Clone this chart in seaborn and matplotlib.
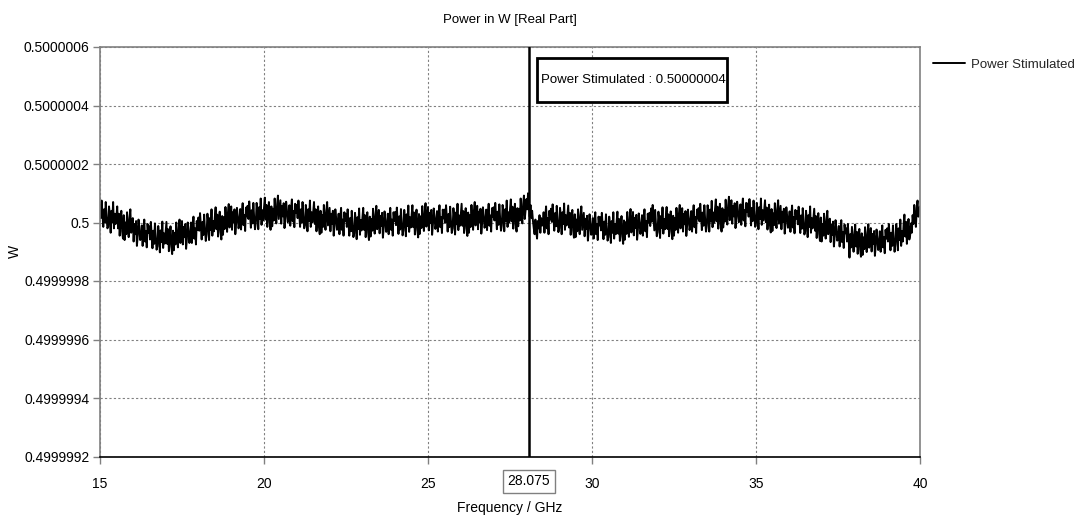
import numpy as np
import pandas as pd
import matplotlib
matplotlib.use("Agg")
import matplotlib.pyplot as plt
from matplotlib.patches import Rectangle
from matplotlib.ticker import FixedLocator, FixedFormatter
import seaborn as sns

# Frequency sweep (GHz), 1001 samples
freq_start = 15.0
freq_stop = 40.0

# Real part of stimulated power, read off the plot as deviation from 0.5 W in nW
# one row = 0.25 GHz (10 samples)
power_offset_nw = [
    60, 15, 75, 30, -15, 45, 0, 70, 20, -20,
    -15, 55, 25, -35, 40, 0, 70, -20, 30, -5,
    20, 55, -20, 30, -45, 5, 40, -30, -55, 25,
    -60, 0, -40, 35, -15, -50, 15, 45, -35, -5,
    15, -65, -5, -40, 5, -80, -45, 10, -20, -60,
    -55, -10, -80, -25, 10, -65, -30, -85, -5, -35,
    -13, -58, 2, -43, -88, -28, -73, -3, -53, -93,
    -82, -12, -42, -102, -27, -67, 3, -87, -37, -72,
    -33, 2, -73, -23, -98, -48, -13, -83, -108, -28,
    -95, -35, -75, 0, -50, -85, -20, 10, -70, -40,
    5, -75, -15, -50, -5, -90, -55, 0, -30, -70,
    -45, 0, -70, -15, 20, -55, -20, -75, 5, -25,
    17, -28, 32, -13, -58, 2, -43, 27, -23, -63,
    -40, 30, 0, -60, 15, -25, 45, -45, 5, -30,
    17, 52, -23, 27, -48, 2, 37, -33, -58, 22,
    -42, 18, -22, 53, 3, -32, 33, 63, -17, 13,
    55, -25, 35, 0, 45, -40, -5, 50, 20, -20,
    1, 46, -24, 31, 66, -9, 26, -29, 51, 21,
    57, 12, 72, 27, -18, 42, -3, 67, 17, -23,
    -3, 67, 37, -23, 52, 12, 82, -8, 42, 7,
    50, 85, 10, 60, -15, 35, 70, 0, -25, 55,
    -13, 47, 7, 82, 32, -3, 62, 92, 12, 42,
    76, -4, 56, 21, 66, -19, 16, 71, 41, 1,
    14, 59, -11, 44, 79, 4, 39, -16, 64, 34,
    60, 15, 75, 30, -15, 45, 0, 70, 20, -20,
    -10, 60, 30, -30, 45, 5, 75, -15, 35, 0,
    35, 70, -5, 45, -30, 20, 55, -15, -40, 40,
    -35, 25, -15, 60, 10, -25, 40, 70, -10, 20,
    50, -30, 30, -5, 40, -45, -10, 45, 15, -25,
    -15, 30, -40, 15, 50, -25, 10, -45, 35, 5,
    30, -15, 45, 0, -45, 15, -30, 40, -10, -50,
    -37, 33, 3, -57, 18, -22, 48, -42, 8, -27,
    15, 50, -25, 25, -50, 0, 35, -35, -60, 20,
    -48, 12, -28, 47, -3, -38, 27, 57, -23, 7,
    43, -37, 23, -12, 33, -52, -17, 38, 8, -32,
    -15, 30, -40, 15, 50, -25, 10, -45, 35, 5,
    36, -9, 51, 6, -39, 21, -24, 46, -4, -44,
    -27, 43, 13, -47, 28, -12, 58, -32, 18, -17,
    24, 59, -16, 34, -41, 9, 44, -26, -51, 29,
    -39, 21, -19, 56, 6, -29, 36, 66, -14, 16,
    53, -27, 33, -2, 43, -42, -7, 48, 18, -22,
    -6, 39, -31, 24, 59, -16, 19, -36, 44, 14,
    44, -1, 59, 14, -31, 29, -16, 54, 4, -36,
    -21, 49, 19, -41, 34, -6, 64, -26, 24, -11,
    29, 64, -11, 39, -36, 14, 49, -21, -46, 34,
    -35, 25, -15, 60, 10, -25, 40, 70, -10, 20,
    57, -23, 37, 2, 47, -38, -3, 52, 22, -18,
    -1, 44, -26, 29, 64, -11, 24, -31, 49, 19,
    52, 7, 67, 22, -23, 37, -8, 62, 12, -28,
    -10, 60, 30, -30, 45, 5, 75, -15, 35, 0,
    44, 79, 4, 54, -21, 29, 64, -6, -31, 49,
    -13, 47, 7, 82, 32, -3, 62, 92, 12, 42,
    80, 45, 100, 55, 20, 60, 15, 40, 5, -20,
    -40, 10, -30, -55, 5, -20, 25, -35, 15, -10,
    -10, 35, -35, 20, 55, -20, 15, -40, 40, 10,
    47, 2, 62, 17, -28, 32, -13, 57, 7, -33,
    -20, 50, 20, -40, 35, -5, 65, -25, 25, -10,
    23, 58, -17, 33, -42, 8, 43, -27, -52, 28,
    -50, 10, -30, 45, -5, -40, 25, 55, -25, 5,
    33, -47, 13, -22, 23, -62, -27, 28, -2, -42,
    -30, 15, -55, 0, 35, -40, -5, -60, 20, -10,
    18, -27, 33, -12, -57, 3, -42, 28, -22, -62,
    -50, 20, -10, -70, 5, -35, 35, -55, -5, -40,
    2, 37, -38, 12, -63, -13, 22, -48, -73, 7,
    -59, 1, -39, 36, -14, -49, 16, 46, -34, -4,
    36, -44, 16, -19, 26, -59, -24, 31, 1, -39,
    -20, 25, -45, 10, 45, -30, 5, -50, 30, 0,
    33, -12, 48, 3, 60, 18, -27, 43, -7, -47,
    -33, 37, 7, -53, 22, -18, 52, -38, 12, -23,
    18, 53, -22, 28, -47, 3, 38, -32, -57, 23,
    -45, 15, -25, 50, 0, -35, 30, 60, -20, 10,
    49, -31, 29, -6, 39, -46, -11, 44, 14, -26,
    -6, 39, -31, 24, 59, -16, 19, -36, 44, 14,
    49, 4, 64, 19, -26, 34, -11, 59, 9, -31,
    -11, 59, 29, -31, 44, 4, 74, -16, 34, -1,
    44, 79, 4, 54, -21, 29, 64, -6, -31, 49,
    -17, 43, 3, 78, 28, -7, 58, 88, 8, 38,
    76, -4, 56, 21, 66, -19, 16, 71, 41, 1,
    17, 62, -8, 47, 82, 7, 42, -13, 67, 37,
    65, 20, 80, 35, -10, 50, 5, 75, 25, -15,
    -3, 67, 37, -23, 52, 12, 82, -8, 42, 7,
    41, 76, 1, 51, -24, 26, 61, -9, -34, 46,
    -29, 31, -9, 66, 16, -19, 46, 76, -4, 26,
    57, -23, 37, 2, 47, -38, -3, 52, 22, -18,
    -7, 38, -32, 23, 58, -17, 18, -37, 43, 13,
    39, -6, 54, 9, -36, 24, -21, 49, -1, -41,
    -30, 40, 10, -50, 25, -15, 55, -35, 15, -20,
    12, 47, -28, 22, -53, -3, 32, -38, -63, 17,
    -65, -5, -45, 30, -20, -55, 10, 40, -40, -10,
    13, -67, -7, -42, 3, -82, -47, 8, -22, -62,
    -57, -12, -82, -27, 8, -67, -32, -87, -7, -37,
    -20, -65, -5, -50, -120, -40, -85, -15, -60, -100,
    -42, -7, -82, -32, -107, -57, -22, -92, -117, -37,
    -111, -51, -91, -16, -66, -101, -36, -6, -86, -56,
    -19, -99, -39, -74, -29, -114, -79, -24, -54, -94,
    -75, -30, -100, -45, -10, -85, -50, -105, -25, -55,
    -20, -65, -5, -50, -95, -35, -80, -10, -60, -100,
    -75, -5, -35, -95, -20, -60, 10, -80, -30, -65,
    -8, 27, -48, 2, -73, -23, 12, -58, -43, -3,
    -35, 25, -5, 60, 15, -15, 50, 75, 20, 45,
    55,
]

marker_freq = 28.075
marker_label = "28.075"
marker_text = "Power Stimulated : 0.50000004"
series_name = "Power Stimulated"

x_ticks = [15, 20, 25, 30, 35, 40]
y_ticks = [0.4999992, 0.4999994, 0.4999996, 0.4999998, 0.5,
           0.5000002, 0.5000004, 0.5000006]
y_tick_labels = ["0.4999992", "0.4999994", "0.4999996", "0.4999998", "0.5",
                 "0.5000002", "0.5000004", "0.5000006"]

freq = np.linspace(freq_start, freq_stop, len(power_offset_nw))
df = pd.DataFrame({
    "freq": freq,
    "power": 0.5 + np.array(power_offset_nw) * 1e-9,
})

sns.set_style("white")
plt.rcParams["font.family"] = ["Liberation Sans", "DejaVu Sans"]

GRAY = "#808080"
INK = "#000000"

fig = plt.figure(figsize=(10.8, 5.25), dpi=100)
ax = fig.add_axes([100 / 1080, 1 - 456.5 / 525, 820 / 1080, 409.5 / 525])

sns.lineplot(data=df, x="freq", y="power", ax=ax, color="black",
             linewidth=1.4, estimator=None, label=series_name)

# marker line
ax.axvline(marker_freq, color="black", linewidth=1.8, zorder=3)

ax.set_xlim(freq_start, freq_stop)
ax.set_ylim(y_ticks[0], y_ticks[-1])
ax.xaxis.set_major_locator(FixedLocator(x_ticks))
ax.set_xticklabels([str(t) for t in x_ticks])
ax.yaxis.set_major_locator(FixedLocator(y_ticks))
ax.yaxis.set_major_formatter(FixedFormatter(y_tick_labels))

ax.grid(True, color=GRAY, linestyle=(0, (2, 2)), linewidth=0.8)
ax.tick_params(axis="both", labelsize=10, colors=GRAY, labelcolor=INK,
               length=5, width=1, direction="out")
ax.tick_params(axis="x", pad=10)
ax.tick_params(axis="y", pad=2.5)
ax.tick_params(left=True, bottom=True)

for side in ["top", "left", "right"]:
    ax.spines[side].set_color(GRAY)
    ax.spines[side].set_linewidth(1.2)
ax.spines["bottom"].set_color("black")
ax.spines["bottom"].set_linewidth(1.2)

ax.set_xlabel("Frequency / GHz", fontsize=10, color=INK)
ax.set_ylabel("W", fontsize=10, color=INK)
ax.xaxis.set_label_coords(0.5, -0.108)
ax.yaxis.set_label_coords(-0.095, 0.5)

fig.text(510 / 1080, 1 - 20 / 525, "Power in W [Real Part]", ha="center",
         va="center", fontsize=9.5, color=INK)

# value box at the marker
ax.add_patch(Rectangle((0.533, 0.866), 0.232, 0.107, transform=ax.transAxes,
                       facecolor="white", edgecolor="black", linewidth=2,
                       zorder=5, clip_on=False))
ax.text(0.538, 0.9195, marker_text, transform=ax.transAxes, ha="left",
        va="center", fontsize=9.5, color=INK, zorder=6)

# marker label on the frequency axis
ax.text(marker_freq, -0.061, marker_label, transform=ax.get_xaxis_transform(),
        ha="center", va="center", fontsize=10, color=INK,
        bbox=dict(boxstyle="square,pad=0.35", facecolor="white",
                  edgecolor=GRAY, linewidth=1))

ax.legend(loc="center left", bbox_to_anchor=(933 / 1080, 1 - 65 / 525),
          bbox_transform=fig.transFigure, frameon=False, fontsize=9.5,
          handlelength=2.4, handletextpad=0.45, borderaxespad=0, borderpad=0)

fig.savefig("out.png", dpi=100)
